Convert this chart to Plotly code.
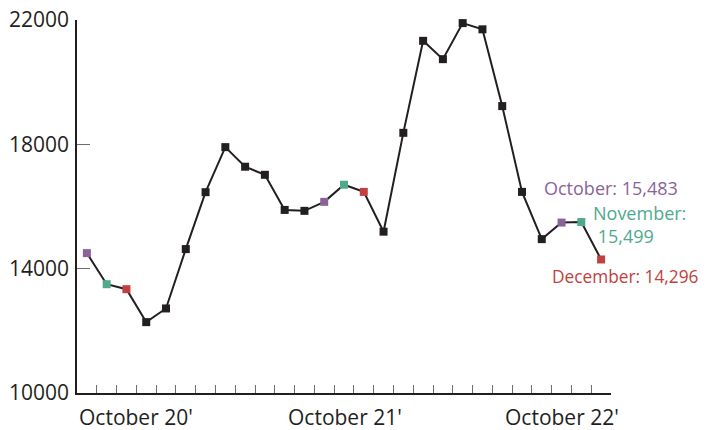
import plotly.graph_objects as go

months = ["Oct 2020", "Nov 2020", "Dec 2020", "Jan 2021", "Feb 2021", "Mar 2021", "Apr 2021",
          "May 2021", "Jun 2021", "Jul 2021", "Aug 2021", "Sep 2021", "Oct 2021", "Nov 2021",
          "Dec 2021", "Jan 2022", "Feb 2022", "Mar 2022", "Apr 2022", "May 2022", "Jun 2022",
          "Jul 2022", "Aug 2022", "Sep 2022", "Oct 2022", "Nov 2022", "Dec 2022"]
values = [14500, 13500, 13340, 12280, 12720, 14630, 16460,
          17910, 17280, 17020, 15890, 15860, 16150, 16700,
          16470, 15190, 18370, 21330, 20740, 21900, 21700,
          19230, 16470, 14950, 15483, 15499, 14296]
y_ticks = [10000, 14000, 18000, 22000]
y_tick_text = ["10000", "14000", "18000", "22000"]
x_labels = ["October 20'", "October 21'", "October 22'"]
x_label_pos = [-0.5, 13.07, 24]

PURPLE = "#8A6397"
GREEN = "#4FA98C"
RED = "#C2403E"
INK = "#231F20"

def month_color(m):
    if m.startswith("Oct"):
        return PURPLE
    if m.startswith("Nov"):
        return GREEN
    if m.startswith("Dec"):
        return RED
    return INK

idx = list(range(len(months)))
colors = [month_color(m) for m in months]

fig = go.Figure()
fig.add_trace(go.Scatter(
    x=idx, y=values, mode="lines+markers",
    line=dict(color=INK, width=2),
    marker=dict(symbol="square", size=8, color=colors, line=dict(width=0)),
    hoverinfo="y", showlegend=False, cliponaxis=False,
))

font_axis = "Open Sans, Liberation Sans, sans-serif"
fig.update_layout(
    template="none",
    width=706, height=422,
    margin=dict(l=69, r=103, t=12, b=37, pad=0),
    paper_bgcolor="white", plot_bgcolor="white",
    xaxis=dict(range=[-0.5, len(months) - 0.5],
               tickmode="array",
               tickvals=[i - 0.5 for i in range(len(months) + 1)],
               ticks="inside", ticklen=8, tickwidth=1.3, tickcolor="#6d6d6d",
               showticklabels=False, showgrid=False, zeroline=False, automargin=False,
               showline=True, linecolor=INK, linewidth=1.6),
    yaxis=dict(range=[y_ticks[0], y_ticks[-1]],
               tickmode="array", tickvals=y_ticks, ticktext=y_tick_text,
               ticks="inside", ticklen=13, tickwidth=1.3, tickcolor="#6d6d6d",
               tickfont=dict(family=font_axis, size=21, color=INK),
               ticklabelstandoff=2, ticklabeloverflow="allow", automargin=False,
               showgrid=False, zeroline=False,
               showline=True, linecolor=INK, linewidth=1.6),
)

for lab, pos in zip(x_labels, x_label_pos):
    fig.add_annotation(x=pos, y=0, xref="x", yref="paper", text=lab, showarrow=False,
                       xanchor="left" if pos < 0 else "center", yanchor="middle", yshift=-24,
                       font=dict(family=font_axis, size=21, color=INK))

font_ann = "Open Sans, sans-serif"
n = len(months)
fig.add_annotation(x=n - 3, y=values[n - 3], text="October: 15,483", showarrow=False,
                   xanchor="center", yanchor="middle", xshift=49, yshift=35,
                   font=dict(family=font_ann, size=18, color=PURPLE))
fig.add_annotation(x=n - 2, y=values[n - 2], text="November:<br> 15,499", showarrow=False,
                   xanchor="left", yanchor="middle", align="left", xshift=10, yshift=-2,
                   font=dict(family=font_ann, size=18, color=GREEN))
fig.add_annotation(x=n - 1, y=values[n - 1], text="December: 14,296", showarrow=False,
                   xanchor="left", yanchor="middle", xshift=-51, yshift=-17,
                   font=dict(family=font_ann, size=17.3, color=RED))

fig.write_html("out.html")
